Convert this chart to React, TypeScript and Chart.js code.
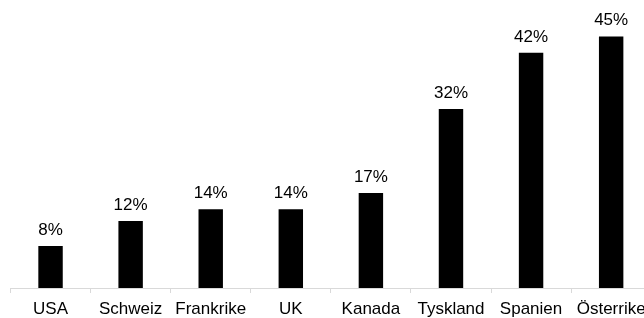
import React, { useEffect, useRef } from "react";
import { Chart, registerables } from "chart.js";

Chart.register(...registerables);

const categories = ["USA", "Schweiz", "Frankrike", "UK", "Kanada", "Tyskland", "Spanien", "Österrike"];
const values = [7.5, 12, 14.1, 14.1, 17, 32, 42.1, 45];
const valueLabels = ["8%", "12%", "14%", "14%", "17%", "32%", "42%", "45%"];

const FONT = '"Liberation Sans", Arial, sans-serif';

const labelPlugin = {
  id: "barLabels",
  afterDatasetsDraw(chart: any) {
    const ctx = chart.ctx;
    const meta = chart.getDatasetMeta(0);
    ctx.save();
    ctx.font = `17px ${FONT}`;
    ctx.fillStyle = "#000";
    ctx.textAlign = "center";
    ctx.textBaseline = "alphabetic";
    meta.data.forEach((bar: any, i: number) => {
      ctx.fillText(valueLabels[i], bar.x, bar.y - 11);
    });
    ctx.restore();
  },
};

export default function App() {
  const ref = useRef<HTMLCanvasElement | null>(null);
  useEffect(() => {
    if (!ref.current) return;
    const chart = new Chart(ref.current, {
      type: "bar",
      data: {
        labels: categories,
        datasets: [
          {
            data: values,
            backgroundColor: "#000",
            borderWidth: 0,
            barPercentage: 0.61,
            categoryPercentage: 0.5,
          },
        ],
      },
      options: {
        responsive: false,
        animation: false,
        layout: { padding: { left: 10.5, right: 8.8, top: 8.5, bottom: 0 } },
        plugins: { legend: { display: false }, tooltip: { enabled: false } },
        scales: {
          x: {
            offset: true,
            grid: { drawOnChartArea: false, drawTicks: true, tickLength: 5, color: "#d9d9d9", offset: true },
            border: { display: true, color: "#d9d9d9", width: 1 },
            ticks: { color: "#000", font: { family: FONT, size: 17 }, padding: 6, maxRotation: 0, autoSkip: false },
            afterFit: (scale: any) => {
              scale.height = 30;
            },
          },
          y: { display: false, min: 0, max: 50 },
        },
      },
      plugins: [labelPlugin],
    });
    return () => chart.destroy();
  }, []);
  return (
    <div style={{ position: "absolute", left: 0, top: 0, width: 644, height: 318, overflow: "hidden", background: "#fff" }}>
      <canvas ref={ref} width={660} height={318} style={{ width: 660, height: 318, display: "block" }} />
    </div>
  );
}
